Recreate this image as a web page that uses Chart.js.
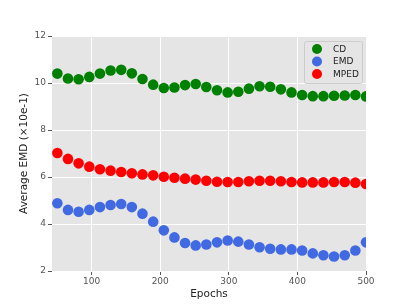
<!DOCTYPE html>
<html><head><meta charset="utf-8">
<script src="https://cdn.jsdelivr.net/npm/chart.js@4"></script>
<style>html,body{margin:0;padding:0;background:#fff}#c{display:block}</style>
</head><body>
<canvas id="c" width="407" height="305"></canvas>
<script>
const epochs = [50,65.5,81,96.6,112.1,127.6,143.1,158.6,174.1,189.7,205.2,220.7,236.2,251.7,267.2,282.8,298.3,313.8,329.3,344.8,360.3,375.9,391.4,406.9,422.4,437.9,453.4,469,484.5,500];
const cd = [10.40,10.19,10.16,10.26,10.40,10.53,10.56,10.41,10.17,9.93,9.79,9.81,9.91,9.96,9.83,9.69,9.60,9.63,9.76,9.86,9.84,9.73,9.60,9.49,9.44,9.44,9.46,9.47,9.49,9.43];
const emd = [4.88,4.60,4.52,4.60,4.72,4.81,4.85,4.72,4.44,4.10,3.73,3.43,3.19,3.09,3.13,3.22,3.30,3.25,3.13,3.01,2.95,2.92,2.92,2.87,2.75,2.67,2.62,2.67,2.87,3.22];
const mped = [7.02,6.77,6.58,6.44,6.33,6.27,6.21,6.16,6.11,6.07,6.01,5.97,5.93,5.89,5.84,5.80,5.79,5.79,5.82,5.84,5.84,5.82,5.79,5.77,5.77,5.77,5.79,5.79,5.76,5.70];
const seriesNames = ['CD','EMD','MPED'];
const seriesColors = ['#008000','#4169E1','#FF0000'];
const xTicks = [100,200,300,400,500];
const yTicks = [2,4,6,8,10,12];

const mk = (arr) => epochs.map((x,i)=>({x, y: arr[i]}));
const allData = [cd, emd, mped];

const bgPlugin = {
  id:'bg',
  beforeDraw(chart){
    const {ctx, chartArea:a} = chart;
    ctx.save(); ctx.fillStyle='#E5E5E5';
    ctx.fillRect(a.left,a.top,a.right-a.left,a.bottom-a.top); ctx.restore();
  }
};
const legendPlugin = {
  id:'mylegend',
  afterDraw(chart){
    const ctx = chart.ctx;
    const bx=304, by=41, bw=58, bh=42;
    ctx.save();
    ctx.fillStyle='rgba(229,229,229,0.8)';
    ctx.strokeStyle='#CCCCCC'; ctx.lineWidth=1;
    ctx.beginPath(); ctx.roundRect(bx+0.5,by+0.5,bw,bh,2); ctx.fill(); ctx.stroke();
    ctx.font='9px "DejaVu Sans"'; ctx.textBaseline='middle'; ctx.textAlign='left';
    chart.data.datasets.forEach((ds,i)=>{
      const yy = by+8+i*12.5;
      ctx.fillStyle=ds.backgroundColor;
      ctx.beginPath(); ctx.arc(317,yy,5,0,Math.PI*2); ctx.fill();
      ctx.fillStyle='#222';
      ctx.fillText(ds.label,333,yy+0.5);
    });
    ctx.restore();
  }
};

new Chart(document.getElementById('c'), {
  type:'scatter',
  data:{datasets: seriesNames.map((n,i)=>({
    label:n, data: mk(allData[i]), backgroundColor: seriesColors[i], borderColor: seriesColors[i],
    pointRadius:5.3, pointHoverRadius:5.3, borderWidth:0, clip:0
  }))},
  options:{
    responsive:false, animation:false, devicePixelRatio:1,
    layout:{padding:{left:0,top:36,right:41,bottom:0}},
    plugins:{legend:{display:false}, tooltip:{enabled:false}},
    scales:{
      x:{type:'linear', min:42.2, max:500,
        afterBuildTicks(s){ s.ticks = xTicks.map(v=>({value:v})); },
        afterFit(s){ s.height = 34; },
        grid:{color:'#FFFFFF', lineWidth:1, tickColor:'#555555', tickLength:4, drawTicks:true},
        border:{display:false},
        ticks:{color:'#555555', font:{family:'DejaVu Sans', size:9}, padding:1, maxRotation:0},
        title:{display:true, text:'Epochs', color:'#222', font:{family:'DejaVu Sans', size:10.5}, padding:{top:0,bottom:4}}
      },
      y:{type:'linear', min:2, max:12,
        afterBuildTicks(s){ s.ticks = yTicks.map(v=>({value:v})); },
        afterFit(s){ s.width = 52; },
        grid:{color:'#FFFFFF', lineWidth:1, tickColor:'#555555', tickLength:4, drawTicks:true},
        border:{display:false},
        ticks:{color:'#555555', font:{family:'DejaVu Sans', size:9}, padding:2},
        title:{display:true, text:'Average EMD (×10e-1)', color:'#222', font:{family:'DejaVu Sans', size:10.5}, padding:{top:18,bottom:0}}
      }
    }
  },
  plugins:[bgPlugin, legendPlugin]
});
</script>
</body></html>
